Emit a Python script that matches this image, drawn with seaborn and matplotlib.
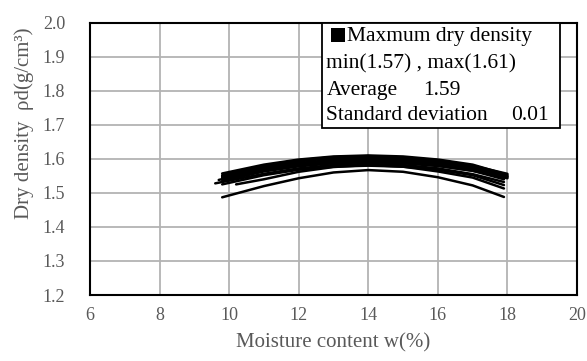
import numpy as np
import pandas as pd
import matplotlib
matplotlib.use("Agg")
import matplotlib.pyplot as plt
import seaborn as sns
from matplotlib.patches import Rectangle

# ---------------- data ----------------
w_mid = [11, 12, 13, 14, 15, 16, 17]
w_start = [9.8, 9.8, 9.8, 9.8, 9.8, 9.8, 9.8, 9.6, 9.8, 10.2, 9.8, 9.8, 9.7]
rho_start = [1.557, 1.550, 1.545, 1.548, 1.540, 1.542, 1.535, 1.528, 1.525, 1.525, 1.487, 1.552, 1.538]
w_end = [18.0, 18.0, 18.0, 17.9, 18.0, 17.9, 18.0, 17.9, 17.9, 17.9, 17.9, 17.9, 18.0]
rho_end = [1.553, 1.556, 1.550, 1.545, 1.548, 1.540, 1.543, 1.532, 1.523, 1.513, 1.488, 1.550, 1.546]
rho_mid = [
    [1.583, 1.598, 1.607, 1.610, 1.607, 1.598, 1.583],
    [1.578, 1.593, 1.602, 1.605, 1.602, 1.594, 1.580],
    [1.574, 1.588, 1.597, 1.600, 1.597, 1.590, 1.575],
    [1.573, 1.586, 1.595, 1.598, 1.594, 1.585, 1.570],
    [1.568, 1.583, 1.592, 1.595, 1.593, 1.586, 1.572],
    [1.567, 1.581, 1.589, 1.592, 1.589, 1.580, 1.565],
    [1.563, 1.578, 1.587, 1.590, 1.587, 1.579, 1.565],
    [1.556, 1.572, 1.582, 1.585, 1.582, 1.572, 1.555],
    [1.552, 1.568, 1.577, 1.580, 1.577, 1.568, 1.552],
    [1.540, 1.562, 1.576, 1.582, 1.577, 1.563, 1.545],
    [1.520, 1.543, 1.560, 1.567, 1.562, 1.546, 1.522],
    [1.580, 1.596, 1.605, 1.608, 1.604, 1.596, 1.580],
    [1.570, 1.585, 1.594, 1.597, 1.596, 1.589, 1.573],
]

x_ticks = [6, 8, 10, 12, 14, 16, 18, 20]
y_ticks = [1.2, 1.3, 1.4, 1.5, 1.6, 1.7, 1.8, 1.9, 2.0]

legend_title = "Maxmum dry density"
legend_range = "min(1.57) , max(1.61)"
avg_label, avg_value = "Average", "1.59"
sd_label, sd_value = "Standard deviation", "0.01"

rows = []
for i in range(len(rho_mid)):
    ws = [w_start[i]] + w_mid + [w_end[i]]
    rs = [rho_start[i]] + rho_mid[i] + [rho_end[i]]
    for w, r in zip(ws, rs):
        rows.append({"curve": i, "w": w, "rho": r})
df = pd.DataFrame(rows)

# ---------------- plot ----------------
sns.set_theme(style="white")
plt.rcParams["font.family"] = ["Liberation Serif", "DejaVu Serif"]

fig = plt.figure(figsize=(5.87, 3.61), dpi=100)
ax = fig.add_axes([90/587, 1 - 295/361, (577-90)/587, (295-22.7)/361])

sns.lineplot(data=df, x="w", y="rho", units="curve", estimator=None,
             color="black", linewidth=1.8, sort=False, ax=ax, legend=False)

ax.set_xlim(6, 20)
ax.set_ylim(1.2, 2.0)
ax.set_xticks(x_ticks)
ax.set_yticks(y_ticks)
ax.set_xticklabels([str(t) for t in x_ticks])
ax.set_yticklabels([f"{t:.1f}" for t in y_ticks])
ax.grid(True, color="#b3b3b3", linewidth=1.3)
ax.set_axisbelow(True)
for s in ax.spines.values():
    s.set_color("black")
    s.set_linewidth(1.5)
ax.tick_params(axis="both", length=0, labelsize=13, colors="#595959")
ax.tick_params(axis="y", pad=18)
ax.tick_params(axis="x", pad=9)

ax.set_xlabel("Moisture content w(%)", fontsize=15, color="#595959", labelpad=6)
ax.set_ylabel("Dry density  \u03c1d(g/cm\u00b3)", fontsize=15, color="#595959")
ax.yaxis.set_label_coords(-0.115, 0.63)

# legend-like box (pixel coordinates converted to axes fraction)
def ax_xy(px, py):
    return ((px - 90) / 487.0, (295 - py) / 272.3)

x0, y0 = ax_xy(321.7, 128.3)
x1, y1 = ax_xy(560, 23.3)
ax.add_patch(Rectangle((x0, y0), x1 - x0, y1 - y0, transform=ax.transAxes,
                       facecolor="white", edgecolor="black", linewidth=1.3,
                       zorder=5, clip_on=False))
sx0, sy0 = ax_xy(330.5, 41.5)
sx1, sy1 = ax_xy(345, 28)
ax.add_patch(Rectangle((sx0, sy0), sx1 - sx0, sy1 - sy0, transform=ax.transAxes,
                       facecolor="black", edgecolor="none", zorder=6, clip_on=False))

def put(px, py, s):
    x, y = ax_xy(px, py)
    ax.text(x, y, s, transform=ax.transAxes, fontsize=15.5, color="black",
            ha="left", va="baseline", zorder=7)

put(347, 41.5, legend_title)
put(326.5, 68.5, legend_range)
put(326.5, 95.5, avg_label)
put(423, 95.5, avg_value)
put(326.5, 120.5, sd_label)
put(511.5, 120.5, sd_value)

fig.savefig("out.png", dpi=100)
